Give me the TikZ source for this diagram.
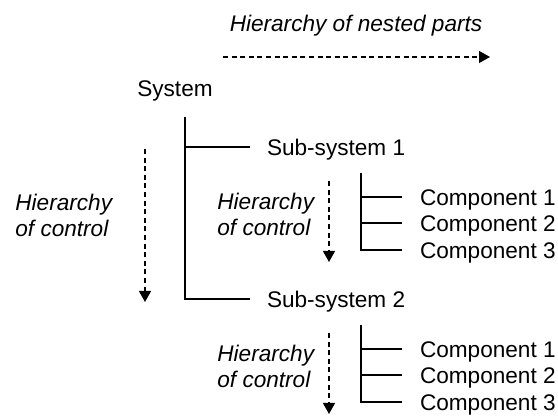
\documentclass[tikz,border=0pt]{standalone}
\usepackage{fontspec}
\setmainfont{Liberation Sans}
\usetikzlibrary{arrows.meta}

\begin{document}
\begin{tikzpicture}[
    every node/.style={inner sep=0pt, font=\fontsize{11.3pt}{13.2pt}\selectfont},
    part/.style={anchor=west, text height=8.1pt, text depth=0pt, outer xsep=8.5pt},
    comp/.style={part, outer xsep=9pt},
    ctrl/.style={anchor=base west, align=left, font=\fontsize{11.3pt}{13.2pt}\selectfont\itshape},
    tree/.style={line width=0.75pt},
    flow/.style={line width=0.65pt, dash pattern=on 2.5pt off 1.8pt, -{Triangle[length=5.5pt,width=6pt]}}
  ]
    \pgfsetxvec{\pgfpoint{0.5pt}{0}}
    \pgfsetyvec{\pgfpoint{0}{-0.5pt}}
    \useasboundingbox (0,0) rectangle (558,416);

    \node[ctrl, anchor=base] (nested) at (356,32) {Hierarchy of nested parts};
    \coordinate (n0) at (223,57);
    \coordinate (n1) at (490,57);
    \draw[flow] (n0) -- (n1);

    \node[anchor=base] (system) at (175,97) {System};
    \coordinate (stem) at (185,117);
    \node[part] (sub1) at (250,147) {Sub-system 1};
    \node[part] (sub2) at (250,299) {Sub-system 2};
    \draw[tree] (stem) |- (sub2);
    \draw[tree] (stem |- sub1) -- (sub1);

    % base is the last line here
    \node[ctrl] (ctrl0) at (15,237) {Hierarchy\\of control};
    \coordinate (c0) at (145,149);
    \coordinate (c1) at (145,302);
    \draw[flow] (c0) -- (c1);

    \foreach \s/\dy in {1/0,2/152} {
      \node[ctrl] (ctrl\s) at (217,236+\dy) {Hierarchy\\of control};
      \coordinate (a\s) at (329,181+\dy);
      \coordinate (b\s) at (329,262+\dy);
      \draw[flow] (a\s) -- (b\s);
      \coordinate (top\s) at (361,173+\dy);
      \foreach \k/\y in {1/197,2/223,3/250} {
        \node[comp] (comp\s\k) at (402,\y+\dy) {Component \k};
        \draw[tree] (top\s |- comp\s\k) -- (comp\s\k);
      }
      \draw[tree] (top\s) |- (comp\s3);
    }
  \end{tikzpicture}
\end{document}
